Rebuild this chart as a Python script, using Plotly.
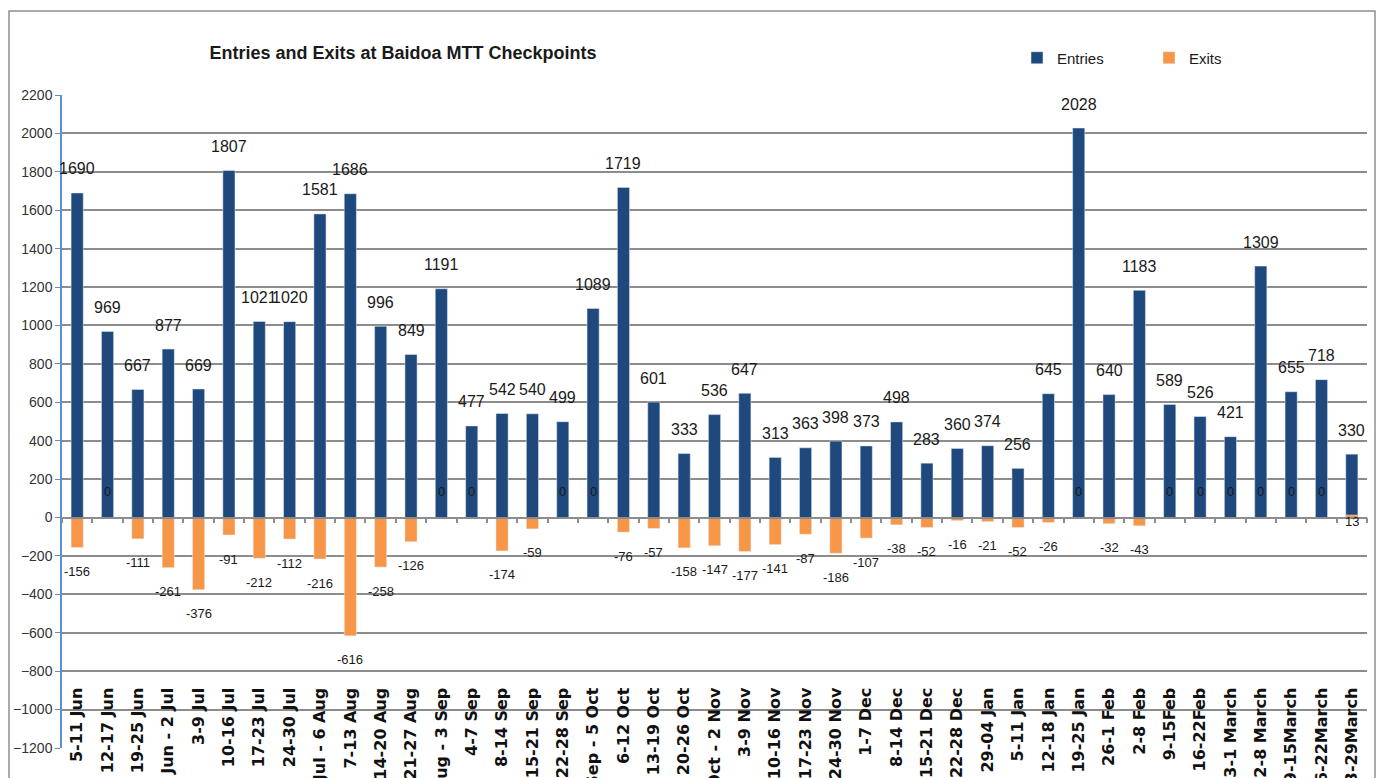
import plotly.graph_objects as go

# ---------------- data ----------------
weeks = [
    "5-11 Jun", "12-17 Jun", "19-25 Jun", "26 Jun - 2 Jul", "3-9 Jul", "10-16 Jul",
    "17-23 Jul", "24-30 Jul", "31 Jul - 6 Aug", "7-13 Aug", "14-20 Aug", "21-27 Aug",
    "28 Aug - 3 Sep", "4-7 Sep", "8-14 Sep", "15-21 Sep", "22-28 Sep", "29 Sep - 5 Oct",
    "6-12 Oct", "13-19 Oct", "20-26 Oct", "27 Oct - 2 Nov", "3-9 Nov", "10-16 Nov",
    "17-23 Nov", "24-30 Nov", "1-7 Dec", "8-14 Dec", "15-21 Dec", "22-28 Dec",
    "29-04 Jan", "5-11 Jan", "12-18 Jan", "19-25 Jan", "26-1 Feb", "2-8 Feb",
    "9-15Feb", "16-22Feb", "23-1 March", "2-8 March", "9-15March", "16-22March",
    "23-29March",
]
entries = [
    1690, 969, 667, 877, 669, 1807, 1021, 1020, 1581, 1686, 996, 849,
    1191, 477, 542, 540, 499, 1089, 1719, 601, 333, 536, 647, 313,
    363, 398, 373, 498, 283, 360, 374, 256, 645, 2028, 640, 1183,
    589, 526, 421, 1309, 655, 718, 330,
]
exits = [
    -156, 0, -111, -261, -376, -91, -212, -112, -216, -616, -258, -126,
    0, 0, -174, -59, 0, 0, -76, -57, -158, -147, -177, -141,
    -87, -186, -107, -38, -52, -16, -21, -52, -26, 0, -32, -43,
    0, 0, 0, 0, 0, 0, 13,
]
y_ticks = list(range(-1200, 2201, 200))

# ---------------- style ----------------
BLUE = "#1F497D"
ORANGE = "#F79646"
GRID = "#8c8c8c"
AXISBLUE = "#5b8fd6"
LABEL_FONT = "Liberation Sans, Arial, sans-serif"
exit_label_shift_override = {"23-29March": -6}

# the page body has an 8px margin, so the figure starts at (8, 8) in the window
OFF = 8
W, H = 1385 - OFF, 778 - OFF
ML, MR, MT, MB = 62 - OFF, 18, 95 - OFF, 30
plot_w = W - ML - MR
plot_h = H - MT - MB
y_min, y_max = y_ticks[0], y_ticks[-1]

fig = go.Figure()
fig.add_trace(go.Bar(x=weeks, y=entries, name="Entries", marker_color=BLUE,
                     width=0.4, hoverinfo="x+y"))
fig.add_trace(go.Bar(x=weeks, y=exits, name="Exits", marker_color=ORANGE,
                     width=0.4, hoverinfo="x+y"))

annotations = []
for w, v in zip(weeks, entries):
    annotations.append(dict(x=w, y=v, xref="x", yref="y", text=str(v),
                            showarrow=False, yshift=24, yanchor="middle",
                            font=dict(family=LABEL_FONT, size=16, color="#1a1a1a")))
for w, v in zip(weeks, exits):
    shift = -24 if v < 0 else 26
    shift = exit_label_shift_override.get(w, shift)
    annotations.append(dict(x=w, y=v, xref="x", yref="y", text=str(v),
                            showarrow=False, yshift=shift, yanchor="middle",
                            font=dict(family=LABEL_FONT, size=13, color="#1a1a1a")))

# outer frame of the chart (paper coords are relative to plot area)
frame = dict(type="rect", xref="paper", yref="paper",
             x0=(9 - 62) / plot_w, x1=(1375 - 62) / plot_w,
             y0=-0.2, y1=(748 - 11) / plot_h,
             line=dict(color="#8f8f8f", width=1.5), fillcolor="rgba(0,0,0,0)",
             layer="below")

fig.update_layout(
    width=W, height=H,
    margin=dict(l=ML, r=MR, t=MT, b=MB, autoexpand=False),
    paper_bgcolor="white", plot_bgcolor="white",
    barmode="overlay",
    title=dict(text="<b>Entries and Exits at Baidoa MTT Checkpoints</b>",
               xref="container", yref="container",
               x=(403 - OFF) / W, y=1 - (53 - OFF) / H,
               xanchor="center", yanchor="middle",
               font=dict(family=LABEL_FONT, size=18, color="#1a1a1a")),
    legend=dict(orientation="h", xref="container", yref="container",
                x=(1017 - OFF) / W, y=1 - (58 - OFF) / H,
                xanchor="left", yanchor="middle",
                entrywidth=87, entrywidthmode="pixels",
                font=dict(family=LABEL_FONT, size=15, color="#1a1a1a"),
                bgcolor="rgba(0,0,0,0)"),
    xaxis=dict(type="category", anchor="free",
               position=(0 - y_min) / (y_max - y_min),
               showgrid=False, showline=True, linecolor=GRID, linewidth=1.5,
               ticks="outside", tickson="boundaries", ticklen=5,
               tickcolor=GRID, tickwidth=1.5,
               tickangle=-90, ticklabelstandoff=163,
               tickfont=dict(family="DejaVu Sans", size=16, color="#111",
                             weight="bold"),
               automargin=False, range=[-0.5, len(weeks) - 0.5]),
    yaxis=dict(range=[y_min, y_max], tickvals=y_ticks, domain=[0, 1],
               showgrid=True, gridcolor=GRID, gridwidth=1.5,
               zeroline=False, showline=True, linecolor=AXISBLUE, linewidth=1.5,
               ticks="outside", ticklen=5, tickcolor=AXISBLUE,
               tickfont=dict(family=LABEL_FONT, size=14, color="#333"),
               automargin=False),
    annotations=annotations,
    shapes=[frame],
    showlegend=True,
)

fig.write_html("out.html")
